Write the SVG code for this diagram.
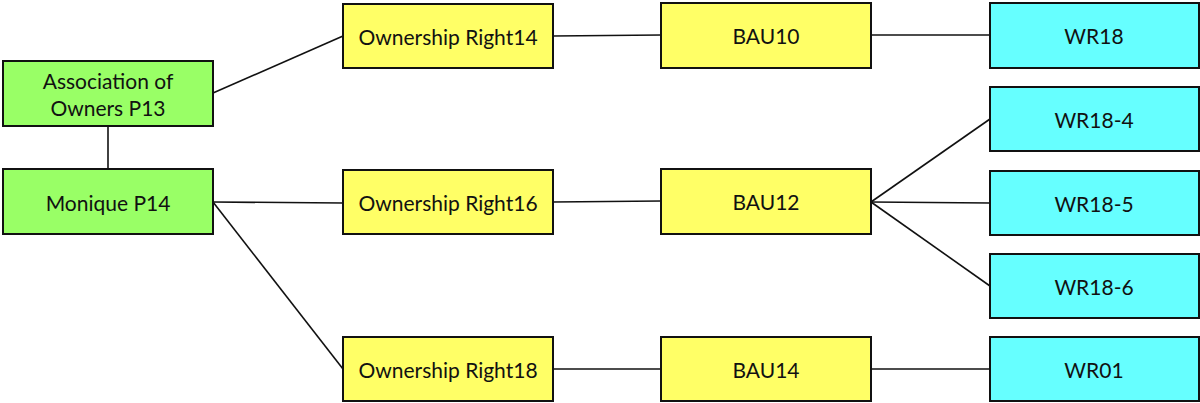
<svg xmlns="http://www.w3.org/2000/svg" width="1200" height="403" viewBox="0 0 1200 403">
<style>
.n{stroke:#111;stroke-width:2}
.g{fill:#99ff66}.y{fill:#ffff66}.c{fill:#66ffff}
text{font-family:Lato,"Liberation Sans",sans-serif;font-size:21px;fill:#111;text-anchor:middle;dominant-baseline:central}
.e{stroke:#111;stroke-width:1.6;fill:none}
</style>
<rect width="1200" height="403" fill="#fff"/>
<g id="connectors">
<line class="e" x1="213" y1="93" x2="343" y2="36"/>
<line class="e" x1="108" y1="126" x2="108" y2="169"/>
<line class="e" x1="213" y1="202" x2="343" y2="203"/>
<line class="e" x1="213" y1="202" x2="343" y2="369"/>
<line class="e" x1="553" y1="36" x2="661" y2="35"/>
<line class="e" x1="553" y1="202" x2="661" y2="201"/>
<line class="e" x1="553" y1="369" x2="661" y2="369"/>
<line class="e" x1="871" y1="35" x2="990" y2="35"/>
<line class="e" x1="871" y1="202" x2="990" y2="119"/>
<line class="e" x1="871" y1="202" x2="990" y2="203"/>
<line class="e" x1="871" y1="202" x2="990" y2="286"/>
<line class="e" x1="871" y1="369" x2="990" y2="369"/>
</g>
<g id="assoc"><rect class="n g" x="3" y="61" width="210" height="65"/><text x="108" y="80">Association of</text><text x="108" y="107">Owners P13</text></g>
<g id="monique"><rect class="n g" x="3" y="169" width="210" height="65"/><text x="108" y="202">Monique P14</text></g>
<g id="or14"><rect class="n y" x="343" y="4" width="210" height="64"/><text x="448" y="36">Ownership Right14</text></g>
<g id="or16"><rect class="n y" x="343" y="170" width="210" height="64"/><text x="448" y="202">Ownership Right16</text></g>
<g id="or18"><rect class="n y" x="343" y="337" width="210" height="64"/><text x="448" y="369">Ownership Right18</text></g>
<g id="bau10"><rect class="n y" x="661" y="3" width="210" height="65"/><text x="766" y="35">BAU10</text></g>
<g id="bau12"><rect class="n y" x="661" y="169" width="210" height="65"/><text x="766" y="201">BAU12</text></g>
<g id="bau14"><rect class="n y" x="661" y="337" width="210" height="64"/><text x="766" y="369">BAU14</text></g>
<g id="wr18"><rect class="n c" x="990" y="3" width="209" height="65"/><text x="1094" y="35">WR18</text></g>
<g id="wr18-4"><rect class="n c" x="990" y="87" width="209" height="64"/><text x="1094" y="119">WR18-4</text></g>
<g id="wr18-5"><rect class="n c" x="990" y="171" width="209" height="64"/><text x="1094" y="203">WR18-5</text></g>
<g id="wr18-6"><rect class="n c" x="990" y="254" width="209" height="64"/><text x="1094" y="286">WR18-6</text></g>
<g id="wr01"><rect class="n c" x="990" y="337" width="209" height="64"/><text x="1094" y="369">WR01</text></g>
</svg>
